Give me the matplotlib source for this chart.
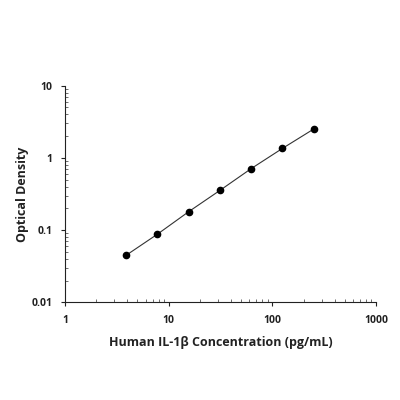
import matplotlib
matplotlib.use("Agg")
import matplotlib.pyplot as plt
from matplotlib.ticker import FixedLocator, FixedFormatter, LogLocator, NullFormatter

concentration = [3.9, 7.8, 15.6, 31.25, 62.5, 125, 250]
optical_density = [0.045, 0.088, 0.18, 0.355, 0.71, 1.35, 2.5]
x_ticks = [1, 10, 100, 1000]
x_tick_labels = ["1", "10", "100", "1000"]
y_ticks = [0.01, 0.1, 1, 10]
y_tick_labels = ["0.01", "0.1", "1", "10"]

plt.rcParams['font.family'] = ['Open Sans', 'DejaVu Sans']

fig = plt.figure(figsize=(4, 4), dpi=100)
ax = fig.add_axes([0.1625, 0.244, 0.7775, 0.542])

ax.plot(concentration, optical_density, color='#333333', lw=0.8, marker='o',
        markersize=4.5, markerfacecolor='black', markeredgecolor='black')
ax.set_xscale('log')
ax.set_yscale('log')
ax.set_xlim(1, 1000)
ax.set_ylim(0.01, 10)

ax.xaxis.set_major_locator(FixedLocator(x_ticks))
ax.xaxis.set_major_formatter(FixedFormatter(x_tick_labels))
ax.yaxis.set_major_locator(FixedLocator(y_ticks))
ax.yaxis.set_major_formatter(FixedFormatter(y_tick_labels))
ax.xaxis.set_minor_locator(LogLocator(base=10, subs=range(2, 10)))
ax.yaxis.set_minor_locator(LogLocator(base=10, subs=range(2, 10)))
ax.xaxis.set_minor_formatter(NullFormatter())
ax.yaxis.set_minor_formatter(NullFormatter())

for s in ['top', 'right']:
    ax.spines[s].set_visible(False)
for s in ['left', 'bottom']:
    ax.spines[s].set_linewidth(0.8)
    ax.spines[s].set_color('#222222')

ax.tick_params(which='major', direction='out', length=3, width=0.8, labelsize=7.5, pad=6, colors='#222222')
ax.tick_params(which='minor', direction='in', length=2, width=0.6, colors='#555555')
for lbl in ax.get_xticklabels() + ax.get_yticklabels():
    lbl.set_fontweight('bold')

ax.set_xlabel("Human IL-1β Concentration (pg/mL)", fontsize=9, fontweight='bold', labelpad=7, color='#222222')
ax.set_ylabel("Optical Density", fontsize=9, fontweight='bold', labelpad=2, color='#222222')

fig.savefig("out.png", dpi=100, facecolor='white')
